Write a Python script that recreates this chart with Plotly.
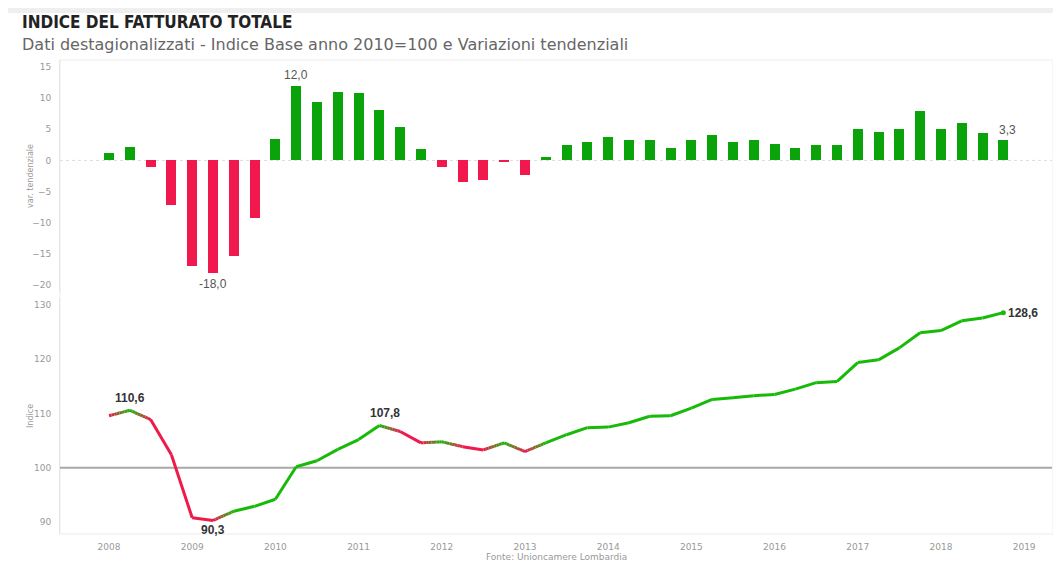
import plotly.graph_objects as go

# ---------------- data ----------------
start_year = 2008
years = list(range(2008, 2020))
year_labels = [str(y) for y in years]

# quarterly index (2010 = 100), 2008Q1 .. 2018Q4
indice = [109.6, 110.6, 108.9, 102.4, 90.8, 90.3, 92.0, 92.9,
          94.2, 100.2, 101.3, 103.4, 105.2, 107.8, 106.7, 104.6,
          104.8, 103.9, 103.3, 104.6, 103.0, 104.6, 106.1, 107.4,
          107.5, 108.3, 109.5, 109.6, 111.0, 112.6, 112.9, 113.3,
          113.5, 114.5, 115.7, 115.9, 119.4, 119.9, 122.1, 124.9,
          125.3, 127.1, 127.6, 128.6]

# year-on-year change (%)
var_tend = [1.2, 2.2, -1.0, -7.2, -16.9, -18.0, -15.4, -9.2,
            3.5, 12.0, 9.3, 10.9, 10.8, 8.1, 5.3, 1.75,
            -1.0, -3.5, -3.1, -0.2, -2.3, 0.5, 2.4, 2.9,
            3.7, 3.3, 3.3, 2.0, 3.2, 4.1, 3.0, 3.35,
            2.7, 2.0, 2.55, 2.5, 5.05, 4.5, 5.05, 7.9,
            5.0, 5.95, 4.4, 3.3]

bar_labels = {9: "12,0", 5: "-18,0", 43: "3,3"}
line_labels = {1: "110,6", 5: "90,3", 13: "107,8", 43: "128,6"}

# ---------------- styling ----------------
GREEN_BAR = "#0aa40a"
RED_BAR = "#f0184c"
GREEN_LINE = (24, 186, 10)
RED_LINE = (238, 26, 76)

# page body has an 8px margin: the figure occupies the window from (8, 8)
OFF = 8
W, H = 1061 - OFF, 565 - OFF
def fx(px): return (px - OFF) / W
def fy(py): return 1 - (py - OFF) / H

x = [start_year + i / 4 for i in range(len(indice))]

fig = go.Figure()

# bars (top panel)
fig.add_trace(go.Bar(
    x=x, y=var_tend, width=0.12,
    marker=dict(color=[GREEN_BAR if v >= 0 else RED_BAR for v in var_tend], line_width=0),
    xaxis="x2", yaxis="y2", showlegend=False, hoverinfo="x+y"))

# line (bottom panel), coloured by quarter-on-quarter direction with gradients
pt_col = [RED_LINE] + [GREEN_LINE if indice[i] > indice[i - 1] else RED_LINE
                       for i in range(1, len(indice))]

def rgb(c): return "rgb(%d,%d,%d)" % c

solid = {GREEN_LINE: ([], []), RED_LINE: ([], [])}
grad_traces = []
N = 8
for i in range(1, len(indice)):
    c0, c1 = pt_col[i - 1], pt_col[i]
    x0, x1, y0, y1 = x[i - 1], x[i], indice[i - 1], indice[i]
    if c0 == c1:
        xs, ys = solid[c0]
        xs += [x0, x1, None]
        ys += [y0, y1, None]
    else:
        for k in range(N):
            t0, t1 = k / N, (k + 1) / N
            tm = (t0 + t1) / 2
            c = tuple(int(round(c0[j] + (c1[j] - c0[j]) * tm)) for j in range(3))
            grad_traces.append(([x0 + (x1 - x0) * t0, x0 + (x1 - x0) * t1],
                                [y0 + (y1 - y0) * t0, y0 + (y1 - y0) * t1], c))

for c, (xs, ys) in solid.items():
    fig.add_trace(go.Scatter(x=xs, y=ys, mode="lines",
                             line=dict(color=rgb(c), width=3),
                             xaxis="x", yaxis="y", showlegend=False, hoverinfo="skip"))
for xs, ys, c in grad_traces:
    fig.add_trace(go.Scatter(x=xs, y=ys, mode="lines",
                             line=dict(color=rgb(c), width=3),
                             xaxis="x", yaxis="y", showlegend=False, hoverinfo="skip"))
fig.add_trace(go.Scatter(x=[x[-1]], y=[indice[-1]], mode="markers",
                         marker=dict(color=rgb(GREEN_LINE), size=5),
                         xaxis="x", yaxis="y", showlegend=False))

# ---------------- annotations ----------------
ann = []
for i, t in bar_labels.items():
    v = var_tend[i]
    if i == len(var_tend) - 1:
        ann.append(dict(x=x[i], y=v, xref="x2", yref="y2", text=t, showarrow=False,
                        xanchor="center", yanchor="bottom", xshift=4, yshift=1,
                        font=dict(family="Liberation Sans", size=12, color="#555")))
    else:
        ann.append(dict(x=x[i], y=v, xref="x2", yref="y2", text=t, showarrow=False,
                        xanchor="center", yanchor="bottom" if v >= 0 else "top",
                        yshift=2 if v >= 0 else -2,
                        font=dict(family="Liberation Sans", size=12, color="#555")))
for i, t in line_labels.items():
    v = indice[i]
    if i == len(indice) - 1:
        a = dict(xanchor="left", yanchor="middle", xshift=3, yshift=0)
    elif i == 5:
        a = dict(xanchor="center", yanchor="top", xshift=0, yshift=-1)
    elif i == 13:
        a = dict(xanchor="center", yanchor="bottom", xshift=6, yshift=3)
    else:
        a = dict(xanchor="center", yanchor="bottom", xshift=0, yshift=3)
    ann.append(dict(x=x[i], y=v, xref="x", yref="y", text="<b>%s</b>" % t, showarrow=False,
                    font=dict(family="Liberation Sans", size=12, color="#333"), **a))

ann += [
    dict(x=fx(20), y=fy(22), xref="paper", yref="paper", xanchor="left", yanchor="middle",
         text="<b>INDICE DEL FATTURATO TOTALE</b>", showarrow=False,
         font=dict(family="DejaVu Sans Condensed", size=17, color="#222")),
    dict(x=fx(20), y=fy(45), xref="paper", yref="paper", xanchor="left", yanchor="middle",
         text="Dati destagionalizzati - Indice Base anno 2010=100 e Variazioni tendenziali",
         showarrow=False, font=dict(family="DejaVu Sans", size=16, color="#666")),
    dict(x=fx(30), y=fy(176), xref="paper", yref="paper", xanchor="center", yanchor="middle",
         text="var. tendenziale", textangle=-90, showarrow=False,
         font=dict(family="DejaVu Sans", size=8, color="#999")),
    dict(x=fx(30), y=fy(416), xref="paper", yref="paper", xanchor="center", yanchor="middle",
         text="Indice", textangle=-90, showarrow=False,
         font=dict(family="DejaVu Sans", size=8, color="#999")),
    dict(x=fx(556), y=fy(557), xref="paper", yref="paper", xanchor="center", yanchor="middle",
         text="Fonte: Unioncamere Lombardia", showarrow=False,
         font=dict(family="DejaVu Sans", size=9, color="#999")),
]

shapes = [
    dict(type="rect", xref="paper", yref="paper", x0=0, x1=1, y0=fy(13), y1=1,
         fillcolor="#efefef", line_width=0, layer="below"),
    dict(type="rect", xref="paper", yref="paper", x0=fx(60), x1=fx(1053), y0=fy(534), y1=fy(60),
         fillcolor="rgba(0,0,0,0)", line=dict(color="#ececec", width=1), layer="below"),
    dict(type="line", xref="x2 domain", yref="y2", x0=0, x1=1, y0=0, y1=0,
         line=dict(color="#dcdcdc", width=1, dash="dot"), layer="below"),
    dict(type="line", xref="x domain", yref="y", x0=0, x1=1, y0=100, y1=100,
         line=dict(color="#a8a8a8", width=2), layer="below"),
]

xr = [start_year - 2.356 / 4, start_year + 45.34 / 4]
tickfont = dict(family="DejaVu Sans", size=9, color="#999")

fig.update_layout(
    width=W, height=H, margin=dict(l=0, r=0, t=0, b=0),
    paper_bgcolor="white", plot_bgcolor="white",
    font=dict(family="DejaVu Sans"),
    showlegend=False, bargap=0,
    annotations=ann, shapes=shapes,
    xaxis=dict(domain=[fx(60), fx(1052)], range=xr, anchor="y",
               tickvals=years, ticktext=year_labels, tickfont=tickfont,
               ticks="outside", ticklen=4, tickcolor="rgba(0,0,0,0)",
               showgrid=False, zeroline=False, showline=False),
    yaxis=dict(domain=[fy(534), fy(298)], range=[87.8, 131.3], anchor="x",
               tickvals=[90, 100, 110, 120, 130], tickfont=tickfont,
               ticks="outside", ticklen=6, tickcolor="rgba(0,0,0,0)",
               showgrid=False, zeroline=False, showline=True, linecolor="#e6e6e6"),
    xaxis2=dict(domain=[fx(60), fx(1052)], range=xr, anchor="y2", matches="x",
                showticklabels=False, showgrid=False, zeroline=False, showline=False),
    yaxis2=dict(domain=[fy(292), fy(60)], range=[-21.1, 16.1], anchor="x2",
                tickvals=[-20, -15, -10, -5, 0, 5, 10, 15], tickfont=tickfont,
                ticks="outside", ticklen=6, tickcolor="rgba(0,0,0,0)",
                showgrid=False, zeroline=False, showline=True, linecolor="#e6e6e6"),
)

fig.write_html("out.html")
